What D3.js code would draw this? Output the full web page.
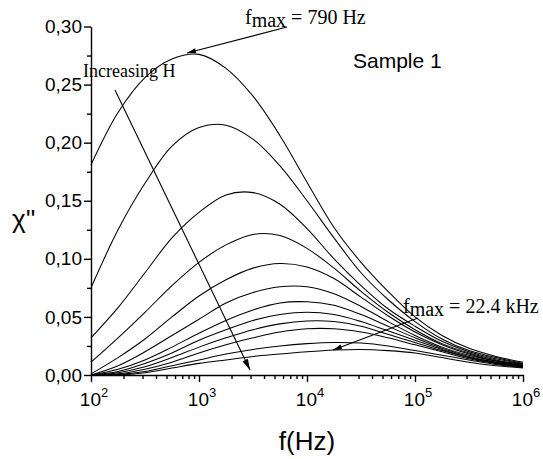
<!DOCTYPE html>
<html>
<head>
<meta charset="utf-8">
<script src="https://cdn.jsdelivr.net/npm/d3@7"></script>
<style>
  html, body { margin: 0; padding: 0; background: #fff; }
  svg { display: block; }
  .sans { font-family: "Liberation Sans", Arial, sans-serif; }
  .serif { font-family: "Liberation Serif", "Times New Roman", serif; }
</style>
</head>
<body>
<div id="chart"></div>
<script>
// Frequencies (Hz), quarter-decade sampling
const freqs = [100, 178, 316, 562, 1000, 1778, 3162, 5623, 10000, 17783, 31623, 56234, 100000, 177828, 316228, 562341, 1000000];

// chi'' curves, from lowest field (top) to highest field (bottom)
const s1  = [0.181, 0.226, 0.256, 0.272, 0.276, 0.264, 0.240, 0.206, 0.166, 0.127, 0.097, 0.072, 0.050, 0.034, 0.023, 0.016, 0.011];
const s2  = [0.075, 0.125, 0.165, 0.197, 0.213, 0.215, 0.203, 0.180, 0.150, 0.118, 0.088, 0.065, 0.046, 0.031, 0.021, 0.015, 0.010];
const s3  = [0.032, 0.058, 0.088, 0.118, 0.140, 0.155, 0.157, 0.147, 0.126, 0.100, 0.077, 0.057, 0.042, 0.029, 0.020, 0.014, 0.0095];
const s4  = [0.011, 0.032, 0.054, 0.077, 0.097, 0.112, 0.121, 0.120, 0.109, 0.092, 0.072, 0.054, 0.039, 0.027, 0.019, 0.013, 0.009];
const s5  = [0.001, 0.015, 0.031, 0.050, 0.068, 0.082, 0.092, 0.096, 0.093, 0.083, 0.067, 0.051, 0.037, 0.026, 0.018, 0.012, 0.0085];
const s6  = [0.000, 0.008, 0.020, 0.034, 0.048, 0.062, 0.071, 0.076, 0.076, 0.070, 0.059, 0.046, 0.034, 0.024, 0.017, 0.012, 0.008];
const s7  = [0.000, 0.005, 0.013, 0.024, 0.036, 0.047, 0.056, 0.062, 0.063, 0.060, 0.052, 0.042, 0.032, 0.023, 0.016, 0.011, 0.008];
const s8  = [0.000, 0.003, 0.010, 0.019, 0.030, 0.039, 0.047, 0.052, 0.054, 0.052, 0.046, 0.038, 0.030, 0.022, 0.015, 0.011, 0.0075];
const s9  = [0.000, 0.002, 0.007, 0.015, 0.024, 0.032, 0.039, 0.044, 0.0465, 0.046, 0.042, 0.035, 0.028, 0.021, 0.015, 0.010, 0.007];
const s10 = [0.000, 0.001, 0.005, 0.011, 0.019, 0.026, 0.032, 0.037, 0.0398, 0.0398, 0.037, 0.032, 0.026, 0.020, 0.014, 0.010, 0.007];
const s11 = [0.000, 0.0005, 0.003, 0.008, 0.013, 0.018, 0.022, 0.025, 0.027, 0.028, 0.0275, 0.025, 0.021, 0.017, 0.013, 0.009, 0.0065];
const s12 = [0.000, 0.000, 0.002, 0.006, 0.010, 0.013, 0.016, 0.018, 0.020, 0.0215, 0.022, 0.021, 0.019, 0.015, 0.011, 0.008, 0.006];
const seriesList = [s1, s2, s3, s4, s5, s6, s7, s8, s9, s10, s11, s12];

// Tick values / labels
const yTicks = [0, 0.05, 0.10, 0.15, 0.20, 0.25, 0.30];
const yMinorTicks = [0.025, 0.075, 0.125, 0.175, 0.225, 0.275];
const xTicks = [1e2, 1e3, 1e4, 1e5, 1e6];
const xExponents = ["2", "3", "4", "5", "6"];

const W = 543, H = 459;
const svg = d3.select("#chart").append("svg").attr("width", W).attr("height", H);

const x = d3.scaleLog().domain([1e2, 1e6]).range([91, 523]);
const y = d3.scaleLinear().domain([0, 0.30]).range([375, 26.5]);

// minor x ticks
const xMinor = [];
for (let d = 2; d < 6; d++) for (let m = 2; m <= 9; m++) xMinor.push(m * Math.pow(10, d));

// Curves
const line = d3.line()
  .x((d, i) => x(freqs[i]))
  .y(d => y(d))
  .curve(d3.curveCatmullRom.alpha(0.5));

svg.append("g").selectAll("path").data(seriesList).join("path")
  .attr("d", d => line(d))
  .attr("fill", "none")
  .attr("stroke", "#000")
  .attr("stroke-width", 1.05);

// Y axis
const yAxis = svg.append("g").attr("transform", "translate(91,0)")
  .call(d3.axisLeft(y).tickValues(yTicks).tickSize(7).tickSizeOuter(0).tickPadding(2)
    .tickFormat(d => d3.format(".2f")(d).replace(".", ",")));
svg.append("g").attr("transform", "translate(91,0)")
  .call(d3.axisLeft(y).tickValues(yMinorTicks).tickSize(4).tickSizeOuter(0).tickFormat(""))
  .select(".domain").remove();

// X axis
const xAxis = svg.append("g").attr("transform", "translate(0,375)")
  .call(d3.axisBottom(x).tickValues(xTicks).tickSize(7).tickSizeOuter(0).tickFormat(""));
svg.append("g").attr("transform", "translate(0,375)")
  .call(d3.axisBottom(x).tickValues(xMinor).tickSize(4).tickSizeOuter(0).tickFormat(""))
  .select(".domain").remove();

svg.selectAll(".domain, .tick line").attr("stroke", "#000").attr("stroke-width", 1.4);
yAxis.selectAll("text").attr("class", "sans").attr("font-size", 19).attr("fill", "#000")
  .style("font-family", "'Liberation Sans', Arial, sans-serif");

// x tick labels 10^n
const xl = svg.append("g");
xTicks.forEach((v, i) => {
  const t = xl.append("text").attr("class", "sans")
    .attr("x", x(v) + 3).attr("y", 406).attr("text-anchor", "middle")
    .attr("font-size", 19).attr("fill", "#000");
  t.append("tspan").text("10");
  t.append("tspan").attr("font-size", 13).attr("dy", -9).text(xExponents[i]);
});

// Axis titles
svg.append("text").attr("class", "sans").attr("x", 307).attr("y", 450)
  .attr("text-anchor", "middle").attr("font-size", 26).text("f(Hz)");
svg.append("text").attr("class", "sans").attr("x", 12).attr("y", 228)
  .attr("font-size", 26).text("χ''");

// Sample label
svg.append("text").attr("class", "sans").attr("x", 353).attr("y", 68)
  .attr("font-size", 21).text("Sample 1");

// Annotations
function fmaxText(xp, yp, rest) {
  const t = svg.append("text").attr("class", "serif").attr("x", xp).attr("y", yp).attr("font-size", 20);
  t.append("tspan").text("f");
  t.append("tspan").attr("dy", 3).text("max");
  t.append("tspan").attr("dy", -3).text(rest);
}
fmaxText(245, 24, " = 790 Hz");
fmaxText(403, 313, " = 22.4 kHz");

svg.append("text").attr("class", "serif").attr("x", 83).attr("y", 77)
  .attr("font-size", 18).text("Increasing H");

// Arrows
function arrow(x1, y1, x2, y2, len, half) {
  svg.append("line").attr("x1", x1).attr("y1", y1).attr("x2", x2).attr("y2", y2)
    .attr("stroke", "#000").attr("stroke-width", 1.1);
  const a = Math.atan2(y2 - y1, x2 - x1);
  const bx = x2 - len * Math.cos(a), by = y2 - len * Math.sin(a);
  const px = -Math.sin(a) * half, py = Math.cos(a) * half;
  svg.append("path")
    .attr("d", `M${x2},${y2}L${bx + px},${by + py}L${bx - px},${by - py}Z`)
    .attr("fill", "#000");
}
arrow(287, 27, 187, 53, 9, 2.5);
arrow(115, 90, 250, 370, 11, 3);
arrow(418, 318, 333, 350, 9, 2.5);
</script>
</body>
</html>
